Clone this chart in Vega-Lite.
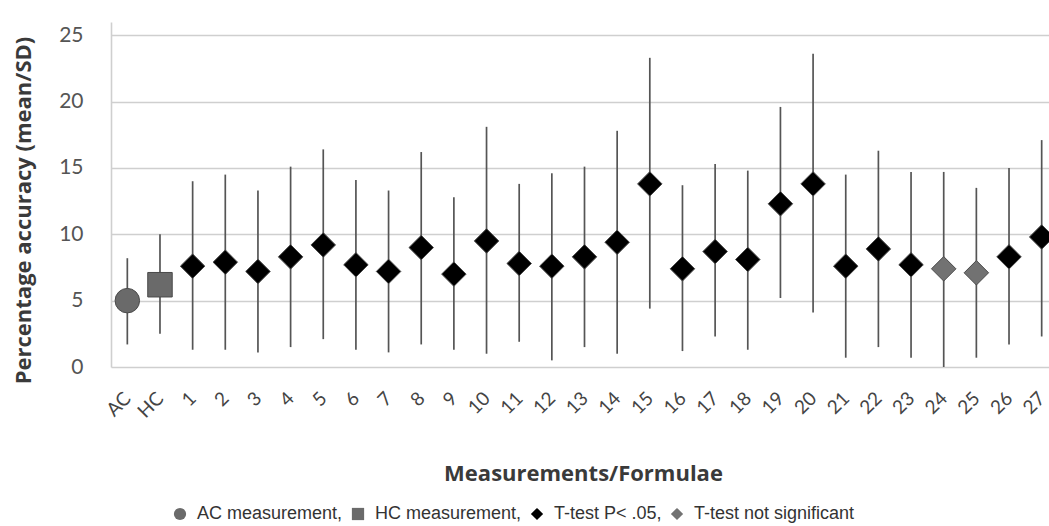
{
  "$schema": "https://vega.github.io/schema/vega-lite/v6.json",
  "width": 938,
  "height": 345,
  "autosize": "none",
  "padding": {"left": 111, "top": 22, "right": 0, "bottom": 159},
  "background": "white",
  "config": {"view": {"stroke": null}, "font": "Lato"},
  "data": {"values": [
    {"m": "AC", "mean": 5.0, "lo": 1.7, "hi": 8.2, "g": "AC measurement,"},
    {"m": "HC", "mean": 6.2, "lo": 2.5, "hi": 10.0, "g": "HC measurement,"},
    {"m": "1", "mean": 7.6, "lo": 1.3, "hi": 14.0, "g": "T-test P< .05,"},
    {"m": "2", "mean": 7.9, "lo": 1.3, "hi": 14.5, "g": "T-test P< .05,"},
    {"m": "3", "mean": 7.2, "lo": 1.1, "hi": 13.3, "g": "T-test P< .05,"},
    {"m": "4", "mean": 8.3, "lo": 1.5, "hi": 15.1, "g": "T-test P< .05,"},
    {"m": "5", "mean": 9.2, "lo": 2.1, "hi": 16.4, "g": "T-test P< .05,"},
    {"m": "6", "mean": 7.7, "lo": 1.3, "hi": 14.1, "g": "T-test P< .05,"},
    {"m": "7", "mean": 7.2, "lo": 1.1, "hi": 13.3, "g": "T-test P< .05,"},
    {"m": "8", "mean": 9.0, "lo": 1.7, "hi": 16.2, "g": "T-test P< .05,"},
    {"m": "9", "mean": 7.0, "lo": 1.3, "hi": 12.8, "g": "T-test P< .05,"},
    {"m": "10", "mean": 9.5, "lo": 1.0, "hi": 18.1, "g": "T-test P< .05,"},
    {"m": "11", "mean": 7.8, "lo": 1.9, "hi": 13.8, "g": "T-test P< .05,"},
    {"m": "12", "mean": 7.6, "lo": 0.5, "hi": 14.6, "g": "T-test P< .05,"},
    {"m": "13", "mean": 8.3, "lo": 1.5, "hi": 15.1, "g": "T-test P< .05,"},
    {"m": "14", "mean": 9.4, "lo": 1.0, "hi": 17.8, "g": "T-test P< .05,"},
    {"m": "15", "mean": 13.8, "lo": 4.4, "hi": 23.3, "g": "T-test P< .05,"},
    {"m": "16", "mean": 7.4, "lo": 1.2, "hi": 13.7, "g": "T-test P< .05,"},
    {"m": "17", "mean": 8.7, "lo": 2.3, "hi": 15.3, "g": "T-test P< .05,"},
    {"m": "18", "mean": 8.1, "lo": 1.3, "hi": 14.8, "g": "T-test P< .05,"},
    {"m": "19", "mean": 12.3, "lo": 5.2, "hi": 19.6, "g": "T-test P< .05,"},
    {"m": "20", "mean": 13.8, "lo": 4.1, "hi": 23.6, "g": "T-test P< .05,"},
    {"m": "21", "mean": 7.6, "lo": 0.7, "hi": 14.5, "g": "T-test P< .05,"},
    {"m": "22", "mean": 8.9, "lo": 1.5, "hi": 16.3, "g": "T-test P< .05,"},
    {"m": "23", "mean": 7.7, "lo": 0.7, "hi": 14.7, "g": "T-test P< .05,"},
    {"m": "24", "mean": 7.4, "lo": 0.0, "hi": 14.7, "g": "T-test not significant"},
    {"m": "25", "mean": 7.1, "lo": 0.7, "hi": 13.5, "g": "T-test not significant"},
    {"m": "26", "mean": 8.3, "lo": 1.7, "hi": 15.0, "g": "T-test P< .05,"},
    {"m": "27", "mean": 9.8, "lo": 2.3, "hi": 17.1, "g": "T-test P< .05,"}
  ]},
  "encoding": {
    "x": {
      "field": "m", "type": "nominal", "sort": null,
      "scale": {"type": "point", "padding": 0.5, "range": [0, 947]},
      "axis": {
        "title": "Measurements/Formulae",
        "labelAngle": -45, "labelAlign": "right", "labelBaseline": "middle",
        "labelPadding": 28, "labelFontSize": 19, "labelColor": "#444",
        "ticks": false, "domain": false,
        "titleFont": "Open Sans", "titleFontSize": 22, "titleFontWeight": "bold", "titleColor": "#3a3a3a",
        "titleX": 472, "titleY": 106, "titleAlign": "center", "titleBaseline": "middle"
      }
    }
  },
  "layer": [
    {
      "mark": {"type": "rule", "color": "#555", "strokeWidth": 1.7},
      "encoding": {
        "y": {
          "field": "lo", "type": "quantitative",
          "scale": {"domain": [0, 25]},
          "axis": {
            "title": "Percentage accuracy (mean/SD)",
            "values": [0, 5, 10, 15, 20, 25],
            "grid": true, "gridColor": "#cfcfcf", "gridWidth": 1.6,
            "ticks": false, "domain": true, "domainColor": "#cfcfcf", "domainWidth": 1.6,
            "labelFontSize": 21, "labelColor": "#555", "labelPadding": 28,
            "titleFont": "Open Sans", "titleFontSize": 22, "titleFontWeight": "bold", "titleColor": "#3a3a3a",
            "titleX": -88, "titleY": 188, "titleAngle": -90,
            "titleAlign": "center", "titleBaseline": "middle"
          }
        },
        "y2": {"field": "hi"}
      }
    },
    {
      "mark": {"type": "point", "filled": true, "size": 600, "opacity": 1, "stroke": "#4a4a4a", "strokeWidth": 1},
      "encoding": {
        "y": {"field": "mean", "type": "quantitative"},
        "shape": {
          "field": "g", "type": "nominal",
          "scale": {"domain": ["AC measurement,", "HC measurement,", "T-test P< .05,", "T-test not significant"], "range": ["circle", "square", "diamond", "diamond"]},
          "legend": null
        },
        "color": {
          "field": "g", "type": "nominal",
          "scale": {"domain": ["AC measurement,", "HC measurement,", "T-test P< .05,", "T-test not significant"], "range": ["#6a6a6a", "#6a6a6a", "#000000", "#727272"]},
          "legend": {
            "title": null, "orient": "none", "legendX": 60, "legendY": 483,
            "direction": "horizontal", "columns": 4,
            "labelFont": "Liberation Sans", "labelLimit": 0,
            "labelFontSize": 18, "labelColor": "#333", "labelOffset": 8,
            "columnPadding": 6, "symbolSize": 150, "symbolStrokeWidth": 0,
            "encode": {"symbols": {"update": {
              "size": {"value": 150},
              "strokeWidth": {"value": 0},
              "fill": [{"test": "datum.value === 'T-test P< .05,'", "value": "#000000"}, {"value": "#9a9a9a"}]
            }}}
          }
        }
      }
    }
  ]
}
